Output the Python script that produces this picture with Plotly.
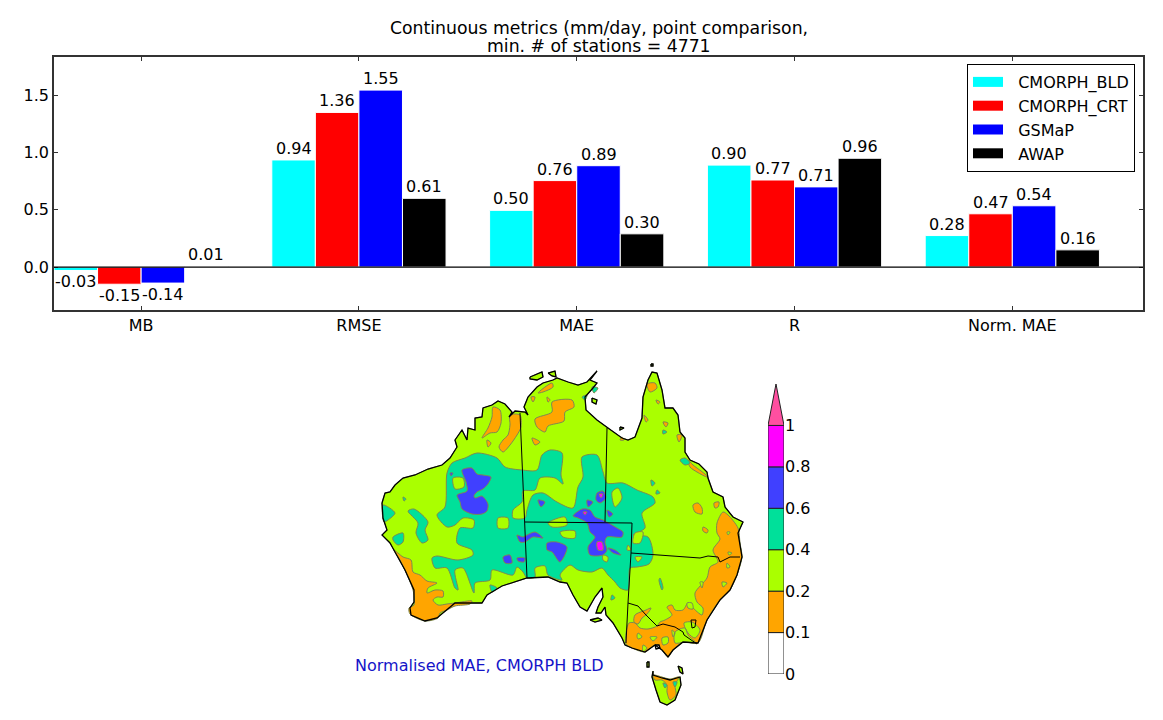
import plotly.graph_objects as go

# bar chart values
metrics = ["MB", "RMSE", "MAE", "R", "Norm. MAE"]
series_names = ["CMORPH_BLD", "CMORPH_CRT", "GSMaP", "AWAP"]
series_colors = ["#00ffff", "#ff0000", "#0000ff", "#000000"]
cmorph_bld = [-0.03, 0.935, 0.495, 0.89, 0.275]
cmorph_crt = [-0.15, 1.35, 0.755, 0.76, 0.465]
gsmap = [-0.14, 1.545, 0.885, 0.70, 0.535]
awap = [0.005, 0.60, 0.29, 0.95, 0.15]
cmorph_bld_labels = ["-0.03", "0.94", "0.50", "0.90", "0.28"]
cmorph_crt_labels = ["-0.15", "1.36", "0.76", "0.77", "0.47"]
gsmap_labels = ["-0.14", "1.55", "0.89", "0.71", "0.54"]
awap_labels = ["0.01", "0.61", "0.30", "0.96", "0.16"]

# colour scale
scale_labels = ["0", "0.1", "0.2", "0.4", "0.6", "0.8", "1"]
scale_colors = ["#ffffff", "#ffa500", "#aaff00", "#00e09a", "#4040ff", "#ff00ff"]
over_color = "#ff4fa0"

# map (projected map, image units)
coast = [(382,503),(385,493),(390,492),(395,485),(403,478),(415,475),(428,469),(442,465),(450,458),(457,447),
         (455,440),(462,430),(467,440),(468,428),(475,430),(475,418),(482,417),(483,408),(492,405),(498,401),
         (505,404),(512,412),(509,417),(515,411),(525,412),(528,415),(524,407),(528,397),(537,387),(543,383),
         (553,380),(557,378),(568,382),(578,385),(587,382),(597,371),(590,380),(597,383),(593,388),(585,397),
         (586,410),(597,420),(608,428),(622,438),(628,440),(635,437),(642,418),(643,397),(648,380),(652,372),
         (657,373),(662,390),(665,408),(673,408),(678,415),(680,432),(685,438),(685,452),(690,460),(699,464),
         (707,472),(708,478),(713,492),(723,497),(725,507),(733,517),(743,522),(738,533),(742,557),(737,575),
         (730,590),(720,600),(707,620),(698,643),(683,642),(673,650),(668,657),(662,650),(655,645),(645,652),
         (632,648),(625,645),(622,638),(613,623),(606,615),(605,607),(601,613),(596,613),(598,607),(603,597),
         (602,588),(595,597),(587,611),(580,607),(573,595),(567,583),(560,582),(548,577),(527,578),(502,586),
         (487,595),(482,603),(455,603),(437,618),(425,621),(411,615),(410,608),(414,602),(414,590),(405,570),
         (395,552),(390,543),(382,535),(387,530),(383,518)]
tasmania = [(653,671),(653,675),(662,678),(670,680),(680,677),(681,685),(677,695),(675,700),(667,705),(660,702),
            (656,690),(652,677)]
islands = [[(530,377),(542,372),(543,377),(537,380),(530,379)],
           [(548,373),(555,371),(556,377),(552,376)],
           [(592,398),(597,400),(596,404),(592,402)],
           [(590,620),(598,618),(602,620),(595,622)],
           [(647,662),(649,662),(649,667),(647,667)],
           [(678,666),(682,668),(683,674),(680,672)],
           [(651,364),(653,364),(653,366),(651,366)],
           [(620,427),(624,428),(620,430)]]
bays = [[(655,645),(659,645),(660,648),(656,649)]]
state_borders = [[(520,413),(524,500),(527,578)],
                 [(525,522),(632,523)],
                 [(607,428),(605,522)],
                 [(632,523),(631,553),(628,603),(626,643)],
                 [(631,553),(700,558),(708,556),(718,557),(720,562),(730,557),(740,557)],
                 [(628,603),(638,606),(646,615),(657,626),(663,624),(675,627),(683,632),(684,635),(697,644)],
                 [(691,620),(696,620),(695,627),(692,628),(691,620)]]

orange_areas = [[(394,550),(403,557),(411,560),(413,572),(420,575),(427,581),(437,583),(428,588),(427,593),(435,590),
                 (443,591),(443,597),(437,597),(433,600),(438,605),(447,604),(455,603),(472,601),(470,604),(455,606),
                 (447,610),(440,613),(438,618),(425,621),(410,614),(409,608),(414,605),(413,590),(400,560)],
                [(493,407),(500,410),(501,423),(497,432),(490,433),(482,438),(488,428),(492,417)],
                [(510,415),(520,415),(521,427),(517,435),(510,445),(503,452),(499,447),(503,440),(508,435),(510,425)],
                [(487,440),(491,443),(488,447)],
                [(535,419),(552,412),(552,402),(572,400),(574,407),(565,412),(564,421),(548,426),(545,432),(537,427)],
                [(538,393),(552,383),(553,387),(543,392)],
                [(531,397),(535,397),(533,402)],
                [(547,397),(550,400),(548,402)],
                [(532,438),(540,442),(535,445)],
                [(647,384),(655,383),(657,388),(650,392)],
                [(656,400),(660,402),(658,404)],
                [(644,415),(648,420),(646,422)],
                [(663,422),(668,423),(666,427)],
                [(677,435),(682,435),(679,442)],
                [(622,437),(624,440),(620,440)],
                [(688,460),(693,465),(706,475),(707,477),(697,472),(690,467)],
                [(693,505),(698,503),(702,508),(702,514),(695,512)],
                [(714,503),(719,502),(718,507),(715,508)],
                [(703,527),(708,530),(707,533),(703,531)],
                [(723,512),(717,523),(717,533),(720,539),(713,550),(718,562),(710,567),(707,578),(695,593),(697,602),
                 (703,608),(702,615),(692,607),(688,603),(683,610),(675,610),(672,605),(667,607),(672,615),(665,620),
                 (660,622),(657,626),(648,629),(640,628),(635,623),(629,623),(626,633),(626,644),(632,648),(645,652),
                 (655,645),(662,650),(668,657),(673,650),(683,642),(698,643),(707,620),(720,600),(730,590),(737,575),
                 (742,557),(740,543),(738,528),(728,515)],
                [(635,615),(646,610),(651,608),(647,614),(642,618),(638,624),(634,622)],
                [(653,675),(670,679),(679,677),(675,685),(676,695),(670,700),(667,692),(667,685),(662,680),(655,680)]]
orange_holes = [[(684,623),(692,622),(700,630),(695,638),(688,633)],
                [(675,632),(685,628),(688,635),(696,643),(685,642),(675,643)],
                [(662,638),(668,637),(668,643),(663,645)],
                [(672,630),(675,633),(673,637)],
                [(650,637),(657,637),(653,641)],
                [(638,633),(642,637),(638,639),(637,636)],
                [(643,645),(647,648),(643,652)],
                [(687,603),(692,603),(693,609),(688,608)],
                [(727,532),(730,532),(728,535)],
                [(728,552),(732,553),(729,555)],
                [(700,582),(703,582),(702,588)],
                [(722,582),(727,583),(723,587)],
                [(727,563),(730,567),(727,568)]]

teal_areas = [[(447,473),(452,463),(465,458),(477,453),(497,458),(505,467),(522,470),(537,470),(542,455),(550,450),
               (562,453),(561,475),(563,484),(555,478),(540,478),(535,490),(523,491),(522,502),(513,510),(513,518),
               (525,518),(527,510),(533,495),(543,493),(557,502),(573,508),(578,487),(583,477),(582,457),(597,455),
               (603,472),(607,483),(623,483),(637,490),(653,497),(655,503),(642,513),(645,528),(633,535),(648,537),
               (653,555),(649,564),(637,567),(630,568),(628,590),(620,588),(615,582),(608,575),(602,568),(592,572),
               (578,570),(570,565),(560,575),(562,580),(548,575),(545,566),(535,568),(535,577),(527,578),(523,572),
               (517,567),(513,575),(492,570),(490,580),(475,583),(474,593),(463,568),(455,570),(458,590),(455,588),
               (447,568),(435,568),(432,558),(437,556),(458,560),(473,555),(472,550),(457,543),(460,528),(473,528),
               (474,520),(463,518),(455,525),(447,527),(437,515),(445,507)],
              [(383,505),(395,513),(388,520),(384,522)],
              [(408,511),(414,509),(428,522),(425,530),(428,540),(422,543),(416,533),(418,523)],
              [(393,537),(403,533),(403,542),(398,545),(393,540)],
              [(490,585),(497,588),(492,592)],
              [(660,578),(663,588),(662,590),(659,580)],
              [(680,460),(685,458),(690,463),(685,465)],
              [(651,480),(655,483),(652,486)],
              [(657,490),(660,493),(656,494)],
              [(582,397),(587,395),(585,400)],
              [(592,387),(598,388),(594,393)],
              [(663,430),(667,432),(663,434)],
              [(612,595),(615,598),(611,600)],
              [(403,497),(406,499),(404,501)],
              [(663,683),(667,685),(665,688)],
              [(673,682),(677,682),(675,687)]]
teal_holes = [[(453,478),(463,478),(464,487),(455,489)],
              [(498,518),(508,518),(508,528),(498,528)],
              [(548,523),(565,517),(567,525),(552,527)],
              [(560,532),(575,531),(575,538),(563,537)],
              [(612,492),(618,488),(622,498),(615,507)],
              [(635,533),(643,532),(640,543),(633,543)],
              [(635,557),(642,557),(638,562)],
              [(603,555),(608,557),(607,562),(603,560)],
              [(628,545),(631,550),(627,550)]]

blue_areas = [[(462,470),(472,468),(477,474),(483,475),(491,477),(488,484),(483,489),(477,492),(474,496),(475,498),
               (482,496),(488,504),(487,511),(482,514),(472,514),(462,509),(460,502),(457,495),(467,491),(466,482)],
              [(573,516),(582,509),(590,510),(595,517),(603,520),(617,528),(623,532),(622,537),(607,537),(605,542),
               (607,550),(603,555),(590,555),(588,547),(595,537),(590,532),(587,523),(578,518)],
              [(597,493),(603,491),(606,498),(600,503),(596,500)],
              [(587,500),(593,502),(588,507)],
              [(607,510),(613,514),(609,517)],
              [(608,548),(615,550),(621,555),(613,553)],
              [(538,500),(545,502),(541,507)],
              [(450,473),(453,473),(451,476)],
              [(517,535),(523,537),(527,535),(535,532),(543,538),(533,537),(525,542),(520,542)],
              [(547,543),(557,542),(567,547),(560,562),(552,552),(547,550)],
              [(503,557),(510,555),(512,563),(505,563)],
              [(517,558),(525,558),(524,562),(518,561)]]
magenta_areas = [[(597,542),(602,542),(603,550),(598,550)],
                 [(583,512),(587,512),(585,515)],
                 [(599,494),(603,494),(601,498)]]

contour_color = "#7d8a50"


def polygons_xy(polygons):
    xs, ys = [], []
    for poly in polygons:
        xs += [p[0] for p in poly] + [poly[0][0], None]
        ys += [p[1] for p in poly] + [poly[0][1], None]
    return xs, ys


def lines_xy(lines):
    xs, ys = [], []
    for line in lines:
        xs += [p[0] for p in line] + [None]
        ys += [p[1] for p in line] + [None]
    return xs, ys


fig = go.Figure()

# bars
all_values = [cmorph_bld, cmorph_crt, gsmap, awap]
all_labels = [cmorph_bld_labels, cmorph_crt_labels, gsmap_labels, awap_labels]
value_notes = []
for s, (name, color, values, labels) in enumerate(zip(series_names, series_colors, all_values, all_labels)):
    fig.add_trace(go.Bar(x=metrics, y=values, marker=dict(color=color, line=dict(color="white", width=1)),
                         name=name, showlegend=False, hoverinfo="skip"))
    # empty line trace, only for a wide legend swatch (nbsp widens the gap to the text)
    fig.add_trace(go.Scatter(x=[None], y=[None], mode="lines", line=dict(color=color, width=10),
                             name="\u00a0\u00a0" + name))
    # labels sit closer to the bars than the bar trace's own text does
    for i, (value, label) in enumerate(zip(values, labels)):
        value_notes.append(dict(text=label, xref="x", yref="y", x=i - 0.3 + 0.2 * s, y=value, showarrow=False,
                                yanchor="bottom" if value >= 0 else "top", font=dict(size=16, color="black")))


# map
def add_fill(polygons, color, smooth=True):
    xs, ys = polygons_xy(polygons)
    line = dict(color=contour_color, width=1)
    if smooth:
        line.update(shape="spline", smoothing=0.8)
    fig.add_trace(go.Scatter(x=xs, y=ys, mode="lines", fill="toself", fillcolor=color, line=line,
                             xaxis="x2", yaxis="y2", showlegend=False, hoverinfo="skip"))


add_fill([coast, tasmania] + islands, scale_colors[2], smooth=False)
add_fill(orange_areas, scale_colors[1])
add_fill(orange_holes, scale_colors[2])
add_fill(teal_areas, scale_colors[3])
add_fill(teal_holes, scale_colors[2])
add_fill(blue_areas, scale_colors[4])
add_fill(magenta_areas, scale_colors[5])
add_fill(bays, "#ffffff", smooth=False)

xs, ys = polygons_xy([coast, tasmania] + islands + bays)
fig.add_trace(go.Scatter(x=xs, y=ys, mode="lines", line=dict(color="black", width=1.3), xaxis="x2", yaxis="y2",
                         showlegend=False, hoverinfo="skip"))
xs, ys = lines_xy(state_borders)
fig.add_trace(go.Scatter(x=xs, y=ys, mode="lines", line=dict(color="black", width=1), xaxis="x2", yaxis="y2",
                         showlegend=False, hoverinfo="skip"))

# colour scale: stacked bar plus arrow on its own axes
for i, color in enumerate(scale_colors):
    fig.add_trace(go.Bar(x=[0], y=[1], base=[i], width=[1], offset=[-0.5], cliponaxis=False,
                         marker=dict(color=color, line=dict(color="#222222", width=1)),
                         xaxis="x3", yaxis="y3", showlegend=False, hoverinfo="skip"))
fig.add_trace(go.Scatter(x=[-0.5, 0, 0.5, -0.5], y=[6, 7, 6, 6], mode="lines", fill="toself", fillcolor=over_color,
                         line=dict(color="#222222", width=1), xaxis="x3", yaxis="y3", showlegend=False, hoverinfo="skip"))

tick_font = dict(family="DejaVu Sans", size=16, color="black")
fig.update_layout(
    width=1163,
    height=720,
    margin=dict(l=0, r=0, t=0, b=0, autoexpand=False),
    paper_bgcolor="white",
    plot_bgcolor="rgba(0,0,0,0)",
    font=tick_font,
    barmode="group",
    bargap=0.2,
    bargroupgap=0,
    title=dict(text="Continuous metrics (mm/day, point comparison,",
               x=599 / 1163, xanchor="center", y=1 - 28 / 720, yanchor="middle", font=dict(size=17.3)),
    legend=dict(x=1135 / 1163, xanchor="right", y=1 - 64 / 720, yanchor="top", bgcolor="white",
                bordercolor="black", borderwidth=1, font=dict(size=16), tracegroupgap=0),
    xaxis=dict(domain=[54 / 1163, 1143 / 1163], range=[-0.4, 4.6], type="category", categoryorder="array",
               categoryarray=metrics, showline=True, linecolor="#333333", linewidth=1.5, mirror="allticks",
               ticks="inside", ticklen=4, tickcolor="#333333", showgrid=False, zeroline=False),
    yaxis=dict(domain=[1 - 310 / 720, 1 - 57 / 720], range=[-0.375, 1.834], tickvals=[0, 0.5, 1.0, 1.5],
               ticktext=["0.0", "0.5", "1.0", "1.5"], showline=True, linecolor="#333333", linewidth=1.5,
               mirror="allticks", ticks="inside", ticklen=4, tickcolor="#333333", showgrid=False, zeroline=False),
    xaxis2=dict(domain=[0, 1], range=[0, 1163], visible=False, anchor="y2"),
    yaxis2=dict(domain=[0, 1], range=[720, 0], visible=False, anchor="x2"),
    xaxis3=dict(domain=[768 / 1163, 784 / 1163], range=[-0.5, 0.5], visible=False, anchor="y3"),
    yaxis3=dict(domain=[1 - 674 / 720, 1 - 384 / 720], range=[0, 7], anchor="x3", side="right", tickvals=list(range(7)),
                ticktext=scale_labels, showgrid=False, zeroline=False, showline=False, ticks=""),
    annotations=value_notes + [
        dict(text="min. # of stations = 4771", xref="paper", yref="paper", x=599 / 1163, y=1 - 46 / 720,
             xanchor="center", yanchor="middle", showarrow=False, font=dict(size=17.3)),
        dict(text="Normalised MAE, CMORPH BLD", xref="paper", yref="paper", x=353 / 1163, y=1 - 665 / 720,
             xanchor="left", yanchor="middle", showarrow=False, font=dict(size=16, color="#1414c8"))],
    shapes=[dict(type="line", xref="x domain", yref="y", x0=0, x1=1, y0=0, y1=0, layer="above",
                 line=dict(color="black", width=1.2))],
)

# the page's default body margin would shift the picture
fig.write_html("out.html", post_script="document.body.style.margin='0';", config={"displayModeBar": False})
